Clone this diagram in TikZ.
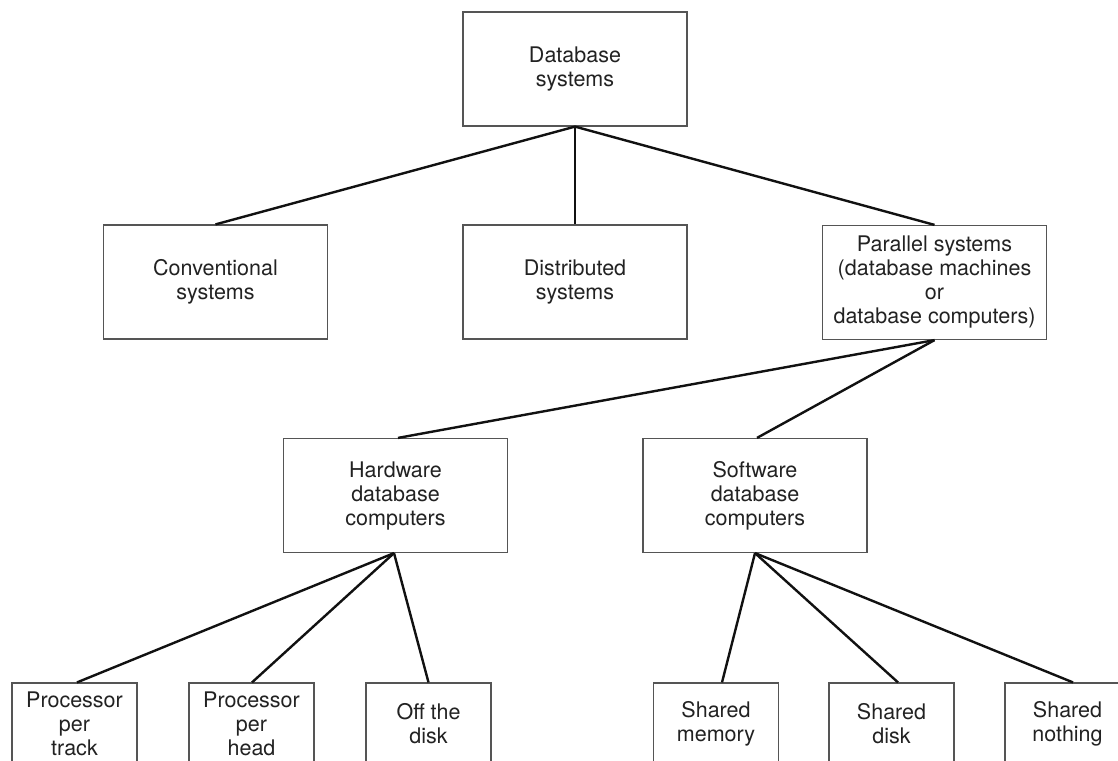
\documentclass[tikz,border=0pt]{standalone}
\usepackage{fontspec}
\setmainfont{TeX Gyre Heros}
\definecolor{boxline}{HTML}{555555}
\definecolor{txt}{HTML}{222222}
\definecolor{link}{HTML}{111111}
\begin{document}
\begin{tikzpicture}[x=1pt,y=-1pt,
  box/.style={draw=boxline,line width=1.2pt,fill=white,align=center,inner sep=0pt,
    text=txt,font=\fontsize{21.5}{24}\selectfont},
  bigbox/.style={box,minimum width=224pt,minimum height=114pt},
  leafbox/.style={box,minimum width=125pt,minimum height=82pt},
  edge/.style={draw=link,line width=2.4pt}]
\useasboundingbox (0,0) rectangle (1118,760);
\fill[white] (0,0) rectangle (1118,760);
\clip (0,0) rectangle (1118,760);

% top level
\node[bigbox] (db) at (575,69) {Database\\systems};

% second level
\node[bigbox] (conv) at (215.5,282) {Conventional\\systems};
\node[bigbox] (dist) at (575,282) {Distributed\\systems};
\node[bigbox] (par) at (934.5,282.5) {Parallel systems\\(database machines\\or\\database computers)};

% third level
\node[bigbox] (hw) at (395.5,495.5) {Hardware\\database\\computers};
\node[bigbox] (sw) at (755,495.5) {Software\\database\\computers};

% leaves
\node[leafbox] (ppt) at (74.5,724) {Processor\\per\\track};
\node[leafbox] (pph) at (251.5,724) {Processor\\per\\head};
\node[leafbox] (otd) at (428.5,724) {Off the\\disk};
\node[leafbox] (sm) at (716,724) {Shared\\memory};
\node[leafbox] (sd) at (891.5,724) {Shared\\disk};
\node[leafbox] (sn) at (1067.5,724) {Shared\\nothing};

% connectors
\draw[edge] (db.south) -- (conv.north);
\draw[edge] (db.south) -- (dist.north);
\draw[edge] (db.south) -- (par.north);

\draw[edge] (par.south) -- ([xshift=2.5pt]hw.north);
\draw[edge] (par.south) -- ([xshift=2pt]sw.north);

\draw[edge] ([xshift=-1.5pt]hw.south) -- ([xshift=2.5pt]ppt.north);
\draw[edge] ([xshift=-1.5pt]hw.south) -- ([xshift=0.5pt]pph.north);
\draw[edge] ([xshift=-1.5pt]hw.south) -- (otd.north);

\draw[edge] (sw.south) -- ([xshift=6pt]sm.north);
\draw[edge] (sw.south) -- ([xshift=6.5pt]sd.north);
\draw[edge] (sw.south) -- ([xshift=5.5pt]sn.north);
\end{tikzpicture}
\end{document}
